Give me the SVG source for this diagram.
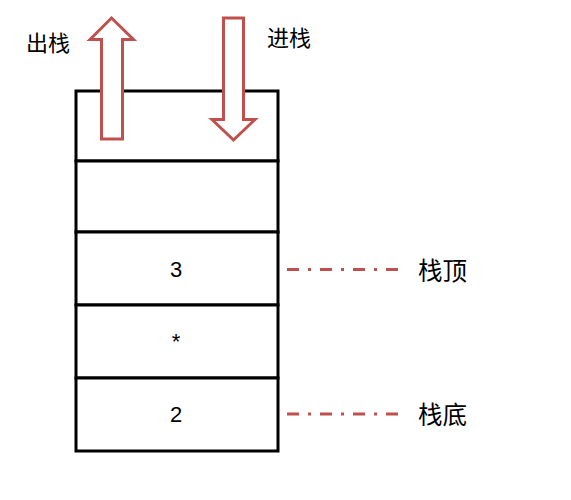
<svg xmlns="http://www.w3.org/2000/svg" width="571" height="500" viewBox="0 0 571 500">
<style>
.cell{fill:#fff;stroke:#000;stroke-width:3}
.arr{fill:#fff;stroke:#C0504D;stroke-width:3;stroke-linejoin:miter}
.dd{stroke:#C0504D;stroke-width:3;stroke-dasharray:12 9 3 9;fill:none}
.num{font-family:"Liberation Sans","Noto Sans",sans-serif;font-size:22px;fill:#000;text-anchor:middle}
.cjk{font-family:"Noto Sans CJK SC",sans-serif;font-size:22px;fill:#000}
.cjk2{font-family:"Noto Sans CJK SC",sans-serif;font-size:24.5px;fill:#000}
</style>
<rect width="571" height="500" fill="#fff"/>
<g id="stack">
<g id="cell1"><rect class="cell" x="76" y="91" width="202" height="70"/></g>
<g id="cell2"><rect class="cell" x="76" y="161" width="202" height="71"/></g>
<g id="cell3"><rect class="cell" x="76" y="232" width="202" height="73"/><text class="num" x="176" y="277">3</text></g>
<g id="cell4"><rect class="cell" x="76" y="305" width="202" height="73"/><text class="num" x="176" y="349">*</text></g>
<g id="cell5"><rect class="cell" x="76" y="378" width="202" height="73"/><text class="num" x="176" y="422">2</text></g>
</g>
<g id="pop">
<polygon class="arr" points="111.5,18 133.5,39.5 122.5,39.5 122.5,139 101.5,139 101.5,39.5 90,39.5"/>
<text class="cjk" x="26" y="51">出栈</text>
</g>
<g id="push">
<polygon class="arr" points="223.5,18 243.5,18 243.5,119.5 255,119.5 233.5,140 212,119.5 223.5,119.5"/>
<text class="cjk" x="267" y="46">进栈</text>
</g>
<g id="connectors">
<line class="dd" x1="287" y1="269.5" x2="398" y2="269.5"/>
<line class="dd" x1="287" y1="414" x2="398" y2="414"/>
</g>
<g id="top-label"><text class="cjk2" x="418" y="280">栈顶</text></g>
<g id="bottom-label"><text class="cjk2" x="418" y="424">栈底</text></g>
</svg>
